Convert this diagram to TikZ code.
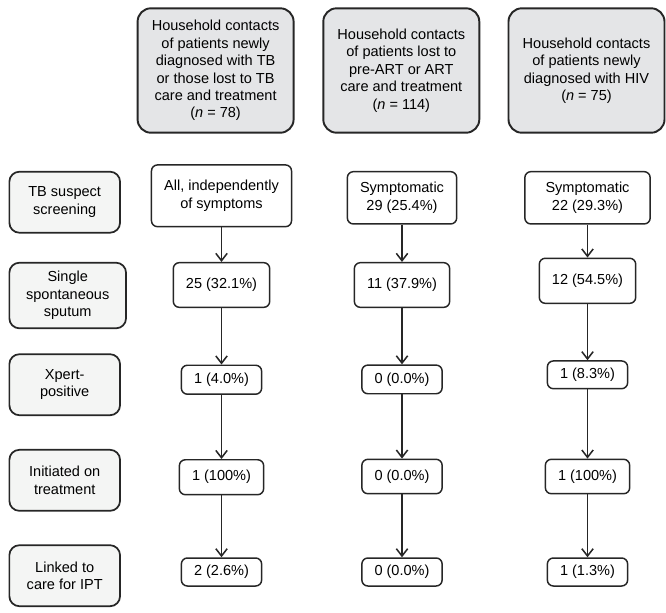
\documentclass[tikz,border=0pt]{standalone}
\usepackage{fontspec}
\setmainfont{Liberation Sans}
\usetikzlibrary{arrows.meta}
\definecolor{hdrgray}{HTML}{E4E5E7}
\definecolor{lblgray}{HTML}{F4F5F4}
\definecolor{edge}{HTML}{262626}
\begin{document}
\begin{tikzpicture}[x=0.75pt, y=-0.75pt, every node/.style={font=\fontsize{10.9}{13.1}\selectfont},
  hdr/.style={draw=edge,line width=1.45pt,fill=hdrgray,rounded corners=10pt,minimum width=117pt,minimum height=93.3pt,align=center,inner sep=2pt},
  lbl/.style={draw=edge,line width=1.3pt,fill=lblgray,rounded corners=7.5pt,minimum width=83pt,minimum height=45.75pt,align=center,inner sep=2pt},
  cnt/.style={draw=edge,line width=1.1pt,fill=white,rounded corners=4.5pt,align=center,inner xsep=9.5pt,inner ysep=2pt},
  flow/.style={-{Straight Barb[length=5.5pt,width=8.5pt]},line width=1.15pt,draw=edge}]
\useasboundingbox (0,0) rectangle (666,612);
\node[hdr] (hTB) at (215.6,70.5) {Household contacts\\of patients newly\\diagnosed with TB\\or those lost to TB\\care and treatment\\(\textit{n} = 78)};
\node[hdr] (hART) at (401.3,70.5) {Household contacts\\of patients lost to\\pre-ART or ART\\care and treatment\\(\textit{n} = 114)};
\node[hdr] (hHIV) at (586.5,70.5) {Household contacts\\of patients newly\\diagnosed with HIV\\(\textit{n} = 75)};
% stages
\node[lbl] (lScreen) at (64.7,202.2) {TB suspect\\screening};
\node[lbl,minimum width=87.5pt,minimum height=49.2pt] (lSputum) at (67.7,295.5) {Single\\spontaneous\\sputum};
\node[lbl] (lXpert) at (64.7,384.7) {Xpert-\\positive};
\node[lbl] (lTreat) at (64.7,480.3) {Initiated on\\treatment};
\node[lbl] (lIPT) at (64.7,575.7) {Linked to\\care for IPT};
% TB contacts
\node[cnt,minimum height=46.3pt] (tbScreen) at (221.5,195.8) {All, independently\\of symptoms};
\node[cnt,minimum height=33.5pt] (tbSputum) at (221.5,285) {25 (32.1\%)};
\node[cnt,minimum height=21.7pt] (tbXpert) at (221.5,379.7) {1 (4.0\%)};
\node[cnt,minimum height=26.2pt] (tbTreat) at (221.5,477.2) {1 (100\%)};
\node[cnt,minimum height=21pt] (tbIPT) at (221.5,572) {2 (2.6\%)};
% ART contacts
\node[cnt,minimum height=39.2pt] (artScreen) at (402,197.8) {Symptomatic\\29 (25.4\%)};
\node[cnt,minimum height=33.5pt] (artSputum) at (402,285) {11 (37.9\%)};
\node[cnt,minimum height=21.5pt] (artXpert) at (402,379.4) {0 (0.0\%)};
\node[cnt,minimum height=25.8pt] (artTreat) at (402,476.5) {0 (0.0\%)};
\node[cnt,minimum height=21pt] (artIPT) at (402,572) {0 (0.0\%)};
% HIV contacts
\node[cnt,minimum width=94pt,minimum height=39.2pt] (hivScreen) at (587.5,197.8) {Symptomatic\\22 (29.3\%)};
\node[cnt,minimum height=33.8pt] (hivSputum) at (587.5,280.8) {12 (54.5\%)};
\node[cnt,minimum height=20.8pt] (hivXpert) at (587.5,374.8) {1 (8.3\%)};
\node[cnt,minimum height=25.8pt] (hivTreat) at (587.5,476.5) {1 (100\%)};
\node[cnt,minimum height=21pt] (hivIPT) at (587.5,572) {1 (1.3\%)};
\draw[flow] (tbScreen) -- (tbSputum);
\draw[flow] (tbSputum) -- (tbXpert);
\draw[flow] (tbXpert) -- (tbTreat);
\draw[flow] (tbTreat) -- (tbIPT);
\draw[flow] (artScreen) -- (artSputum);
\draw[flow] (artSputum) -- (artXpert);
\draw[flow] (artXpert) -- (artTreat);
\draw[flow] (artTreat) -- (artIPT);
\draw[flow] (hivScreen) -- (hivSputum);
\draw[flow] (hivSputum) -- (hivXpert);
\draw[flow] (hivXpert) -- (hivTreat);
\draw[flow] (hivTreat) -- (hivIPT);
\end{tikzpicture}
\end{document}
